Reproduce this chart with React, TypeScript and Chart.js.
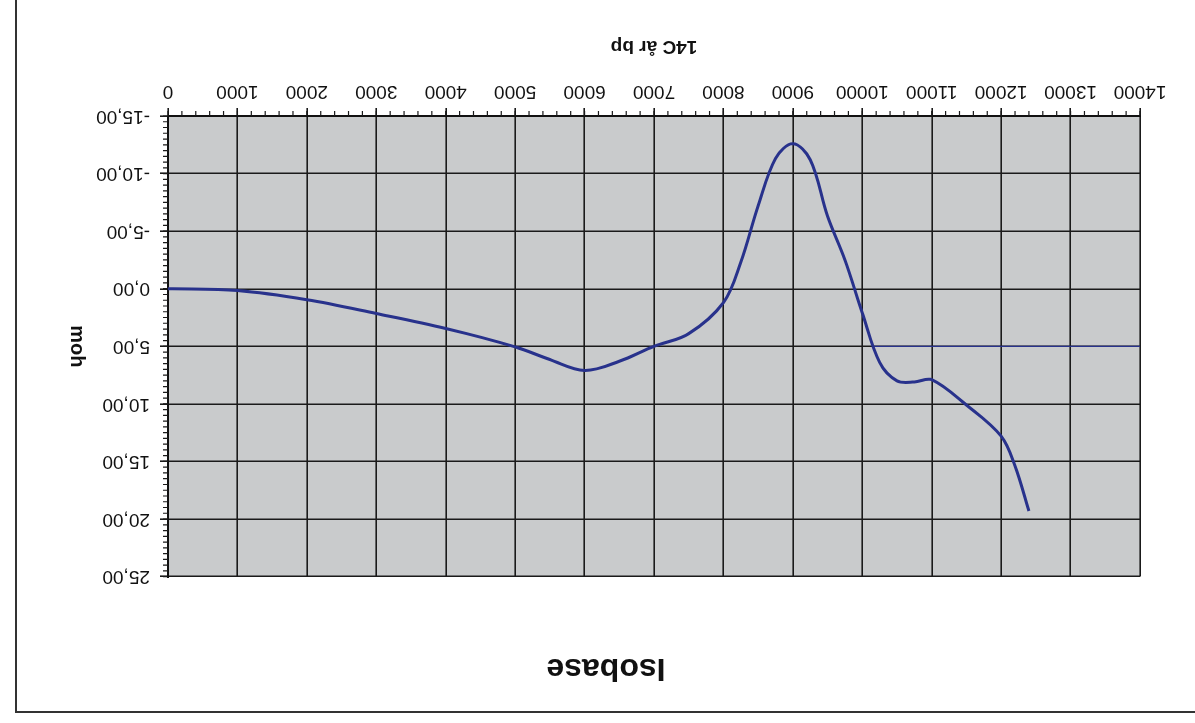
import React, { useEffect, useRef } from "react";
import { Chart, registerables } from "chart.js";

Chart.register(...registerables);

// ---- data ----
const years = [0, 1000, 2000, 3000, 4000, 5000, 5500, 6000, 6500, 7000, 7500, 8000, 8250, 8500, 8750, 9000, 9250, 9500, 9750, 10000, 10250, 10500, 10750, 11000, 11500, 12000, 12200, 12400];
const levels = [0, 0.15, 0.95, 2.15, 3.45, 5.05, 6.15, 7.1, 6.3, 5.0, 3.9, 1.2, -2.3, -7.2, -11.3, -12.6, -11.2, -6.3, -2.5, 2.1, 6.4, 8.0, 8.1, 7.9, 10.1, 12.8, 15.4, 19.3];
const refYears = [10150, 14000];
const refLevels = [5, 5];

const xMin = 0;
const xMax = 14000;
const xStep = 1000;
const xMinorStep = 200;
const yMin = -15;
const yMax = 25;
const yStep = 5;
const yMinorStep = 0.5;

const chartTitle = "Isobase";
const xTitle = "14C år bp";
const yTitle = "moh";

const W = 1195;
const H = 723;
const FONT = '"Liberation Sans", Arial, sans-serif';

const decoPlugin = {
  id: "deco",
  beforeDraw(chart: any) {
    const { ctx, chartArea } = chart;
    ctx.save();
    ctx.fillStyle = "#ffffff";
    ctx.fillRect(0, 0, chart.width, chart.height);
    ctx.fillStyle = "#c9cbcc";
    ctx.fillRect(chartArea.left, chartArea.top, chartArea.right - chartArea.left, chartArea.bottom - chartArea.top);
    // outer frame (only top & right edges are on the page)
    ctx.strokeStyle = "#333333";
    ctx.lineWidth = 2;
    ctx.beginPath();
    ctx.moveTo(0, 11);
    ctx.lineTo(1179, 11);
    ctx.lineTo(1179, chart.height);
    ctx.stroke();
    ctx.restore();
  },
  afterDraw(chart: any) {
    const { ctx, chartArea, scales } = chart;
    const xs = scales.x;
    const ys = scales.y;
    ctx.save();
    ctx.strokeStyle = "#1a1a1a";
    ctx.lineWidth = 1.2;
    ctx.beginPath();
    for (let v = xMin; v <= xMax + 1e-6; v += xMinorStep) {
      const px = xs.getPixelForValue(v);
      ctx.moveTo(px, chartArea.bottom);
      ctx.lineTo(px, chartArea.bottom + 5);
    }
    for (let v = yMin; v <= yMax + 1e-6; v += yMinorStep) {
      const py = ys.getPixelForValue(v);
      ctx.moveTo(chartArea.right, py);
      ctx.lineTo(chartArea.right + 5, py);
    }
    ctx.stroke();
    // y axis title, reading bottom-to-top
    ctx.translate(ys.right - 5, (chartArea.top + chartArea.bottom) / 2);
    ctx.rotate(-Math.PI / 2);
    ctx.fillStyle = "#111111";
    ctx.font = "bold 20px " + FONT;
    ctx.textAlign = "center";
    ctx.textBaseline = "middle";
    ctx.fillText(yTitle, 0, 0);
    ctx.restore();
  },
};

export default function App() {
  const ref = useRef<HTMLCanvasElement | null>(null);

  useEffect(() => {
    if (!ref.current) return;
    Chart.defaults.font.family = FONT;
    const chart = new Chart(ref.current, {
      type: "scatter",
      data: {
        datasets: [
          {
            label: "Isobase",
            data: years.map((x, i) => ({ x, y: levels[i] })),
            showLine: true,
            borderColor: "#28328c",
            backgroundColor: "#28328c",
            borderWidth: 3,
            pointRadius: 0,
            tension: 0.35,
          },
          {
            label: "ref",
            data: refYears.map((x, i) => ({ x, y: refLevels[i] })),
            showLine: true,
            borderColor: "#28328c",
            backgroundColor: "#28328c",
            borderWidth: 1.3,
            pointRadius: 0,
          },
        ],
      },
      options: {
        responsive: false,
        animation: false,
        layout: { padding: { left: 55, right: 72, top: 10, bottom: 0 } },
        plugins: {
          legend: { display: false },
          tooltip: { enabled: false },
          title: {
            display: true,
            text: chartTitle,
            color: "#111111",
            font: { size: 32, weight: "bold" },
            padding: { top: 26, bottom: 72 },
          },
        },
        scales: {
          x: {
            type: "linear",
            position: "bottom",
            reverse: true,
            min: xMin,
            max: xMax,
            ticks: {
              stepSize: xStep,
              autoSkip: false,
              maxRotation: 0,
              padding: 5,
              color: "#111111",
              font: { size: 19 },
              callback: (v: any) => String(v),
            },
            grid: { color: "#1a1a1a", lineWidth: 1.6, tickLength: 8, drawTicks: true },
            border: { display: true, color: "#111111", width: 2 },
            title: {
              display: true,
              text: xTitle,
              color: "#111111",
              font: { size: 19, weight: "bold" },
              padding: { top: 0, bottom: 35 },
            },
            afterFit: (s: any) => {
              s.height = 116;
            },
          },
          y: {
            type: "linear",
            position: "right",
            min: yMin,
            max: yMax,
            ticks: {
              stepSize: yStep,
              padding: 10,
              color: "#111111",
              font: { size: 19 },
              callback: (v: any) => Number(v).toFixed(2).replace(".", ","),
            },
            grid: { color: "#1a1a1a", lineWidth: 1.6, tickLength: 8, drawTicks: true },
            border: { display: true, color: "#111111", width: 2 },
            afterFit: (s: any) => {
              s.width = 96;
            },
          },
        },
      } as any,
      plugins: [decoPlugin],
    });
    return () => chart.destroy();
  }, []);

  return (
    <div
      style={{
        position: "fixed",
        left: 0,
        top: 0,
        width: W,
        height: H,
        overflow: "hidden",
        background: "#ffffff",
        transform: "rotate(180deg)",
      }}
    >
      <canvas ref={ref} width={W} height={H} style={{ display: "block", width: W, height: H }} />
    </div>
  );
}
